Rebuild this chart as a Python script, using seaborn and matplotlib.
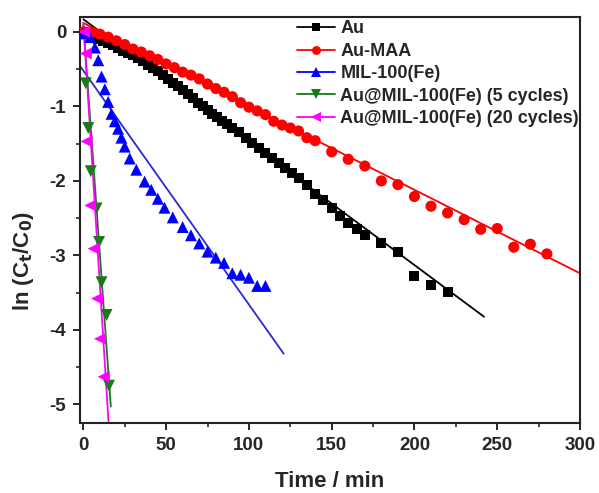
import numpy as np
import pandas as pd
import matplotlib
matplotlib.use("Agg")
import matplotlib.pyplot as plt
from matplotlib.lines import Line2D
import seaborn as sns

# ---- measured kinetics: ln(Ct/C0) versus time (min) ----
au_t = [0, 3, 6, 9, 12, 15, 18, 21, 24, 27, 30, 33, 36, 39, 42, 45, 48, 51, 54, 57,
        60, 63, 66, 69, 72, 75, 78, 81, 84, 87, 90, 94, 98, 102, 106, 110, 114, 118,
        122, 126, 130, 135, 140, 145, 150, 155, 160, 165, 170, 180, 190, 200, 210, 220]
au_v = [0.00, -0.03, -0.06, -0.09, -0.12, -0.15, -0.18, -0.21, -0.25, -0.28, -0.31,
        -0.35, -0.39, -0.44, -0.48, -0.53, -0.58, -0.63, -0.68, -0.73, -0.78, -0.83,
        -0.89, -0.95, -1.00, -1.05, -1.10, -1.14, -1.19, -1.24, -1.29, -1.35, -1.42,
        -1.49, -1.56, -1.62, -1.69, -1.76, -1.83, -1.89, -1.96, -2.06, -2.17, -2.26,
        -2.37, -2.47, -2.56, -2.64, -2.72, -2.84, -2.96, -3.28, -3.40, -3.49]

maa_t = [0, 5, 10, 15, 20, 25, 30, 35, 40, 45, 50, 55, 60, 65, 70, 75, 80, 85, 90,
         95, 100, 105, 110, 115, 120, 125, 130, 135, 140, 150, 160, 170, 180, 190,
         200, 210, 220, 230, 240, 250, 260, 270, 280]
maa_v = [0.00, -0.01, -0.03, -0.07, -0.12, -0.17, -0.23, -0.27, -0.32, -0.37, -0.43,
         -0.48, -0.54, -0.58, -0.63, -0.70, -0.76, -0.81, -0.87, -0.95, -1.01, -1.06,
         -1.11, -1.20, -1.25, -1.29, -1.33, -1.42, -1.46, -1.61, -1.71, -1.80, -2.00,
         -2.05, -2.21, -2.34, -2.43, -2.52, -2.65, -2.64, -2.89, -2.85, -2.98]

mil_t = [0, 4, 7, 9, 11, 13, 15, 17, 19, 21, 23, 25, 28, 32, 37, 41, 45, 49, 54, 60,
         65, 70, 75, 80, 85, 90, 95, 100, 105, 110]
mil_v = [-0.02, -0.07, -0.21, -0.38, -0.60, -0.77, -0.94, -1.10, -1.20, -1.30, -1.42,
         -1.54, -1.70, -1.85, -2.01, -2.12, -2.24, -2.36, -2.49, -2.62, -2.73, -2.84,
         -2.95, -3.03, -3.10, -3.24, -3.26, -3.30, -3.41, -3.41]

c5_t = [1.5, 3.0, 4.5, 8.0, 9.5, 11.0, 14.0, 15.5]
c5_v = [-0.69, -1.29, -1.87, -2.37, -2.82, -3.36, -3.80, -4.75]

c20_t = [0.5, 1.5, 2.0, 4.2, 6.2, 8.3, 10.1, 12.3]
c20_v = [0.00, -0.29, -1.47, -2.33, -2.91, -3.58, -4.12, -4.63]

# linear fits: intercept, slope, fitted time span
fit_b0 = [0.17, 0.12, -0.52, 0.10, 0.12]
fit_k = [-0.0165, -0.01120, -0.0314, -0.309, -0.352]
fit_t0 = [0, 0, -2, 0, 0]
fit_t1 = [242, 300, 121, 16.6, 16.0]

names = ["Au", "Au-MAA", "MIL-100(Fe)",
         "Au@MIL-100(Fe) (5 cycles)", "Au@MIL-100(Fe) (20 cycles)"]
colors = ["#000000", "#ff0000", "#0000ff", "#1a7a1a", "#ff00ff"]
fit_colors = ["#000000", "#ff0000", "#2a2ad0", "#1a7a1a", "#ff00ff"]
markers = ["s", "o", "^", "v", "<"]
msizes = [7.2, 8.0, 8.6, 8.6, 8.6]

series_t = [au_t, maa_t, mil_t, c5_t, c20_t]
series_v = [au_v, maa_v, mil_v, c5_v, c20_v]

frames = []
for name, t, v in zip(names, series_t, series_v):
    frames.append(pd.DataFrame({"time": t, "lnc": v, "sample": name}))
df = pd.concat(frames, ignore_index=True)

sns.set_style("ticks")
plt.rcParams["font.family"] = ["Liberation Sans", "DejaVu Sans"]
plt.rcParams["font.weight"] = "bold"
plt.rcParams["mathtext.default"] = "bf"

fig = plt.figure(figsize=(5.99, 4.93), dpi=100)
ax = fig.add_axes([0.1336, 0.142, 0.8347, 0.8235])

# fitted lines
for i in range(len(names)):
    tt = np.array([fit_t0[i], fit_t1[i]], dtype=float)
    vv = fit_b0[i] + fit_k[i] * tt
    sns.lineplot(x=tt, y=vv, ax=ax, color=fit_colors[i], lw=1.3,
                 legend=False, zorder=2)

# data points
for i, name in enumerate(names):
    sub = df[df["sample"] == name]
    sns.scatterplot(data=sub, x="time", y="lnc", ax=ax, marker=markers[i],
                    color=colors[i], s=msizes[i] ** 2, edgecolor="none",
                    linewidth=0, legend=False, zorder=3)

ax.set_xlim(-2, 300)
ax.set_ylim(-5.25, 0.2)
ax.set_xticks([0, 50, 100, 150, 200, 250, 300])
ax.set_xticks(np.arange(25, 300, 50), minor=True)
ax.set_yticks([0, -1, -2, -3, -4, -5])
ax.set_yticks([-0.5, -1.5, -2.5, -3.5, -4.5], minor=True)
ax.set_yticklabels(["0", "-1", "-2", "-3", "-4", "-5"])

for sp in ax.spines.values():
    sp.set_linewidth(1.5)
    sp.set_color("#222222")
ax.tick_params(which="major", direction="out", length=5, width=1.4,
               labelsize=13.5, pad=5)
ax.tick_params(which="minor", direction="out", length=3, width=1.2)
for lab in ax.get_xticklabels() + ax.get_yticklabels():
    lab.set_fontweight("bold")

ax.set_xlabel("Time / min", fontsize=16, fontweight="bold", labelpad=12)
ax.set_ylabel(r"ln (C$_t$/C$_0$)", fontsize=16, fontweight="bold", labelpad=8)
ax.yaxis.set_label_coords(-0.088, 0.40)

handles = [Line2D([0], [0], color=colors[i], lw=1.3, marker=markers[i],
                  markersize=msizes[i] * 0.8, markeredgewidth=0)
           for i in range(len(names))]
leg = ax.legend(handles, names, loc="upper right", frameon=False,
                bbox_to_anchor=(1.018, 1.016), handlelength=2.1,
                handletextpad=0.3, labelspacing=0.3, borderaxespad=0.15,
                prop={"size": 13, "weight": "bold"})

fig.savefig("out.png", dpi=100)
